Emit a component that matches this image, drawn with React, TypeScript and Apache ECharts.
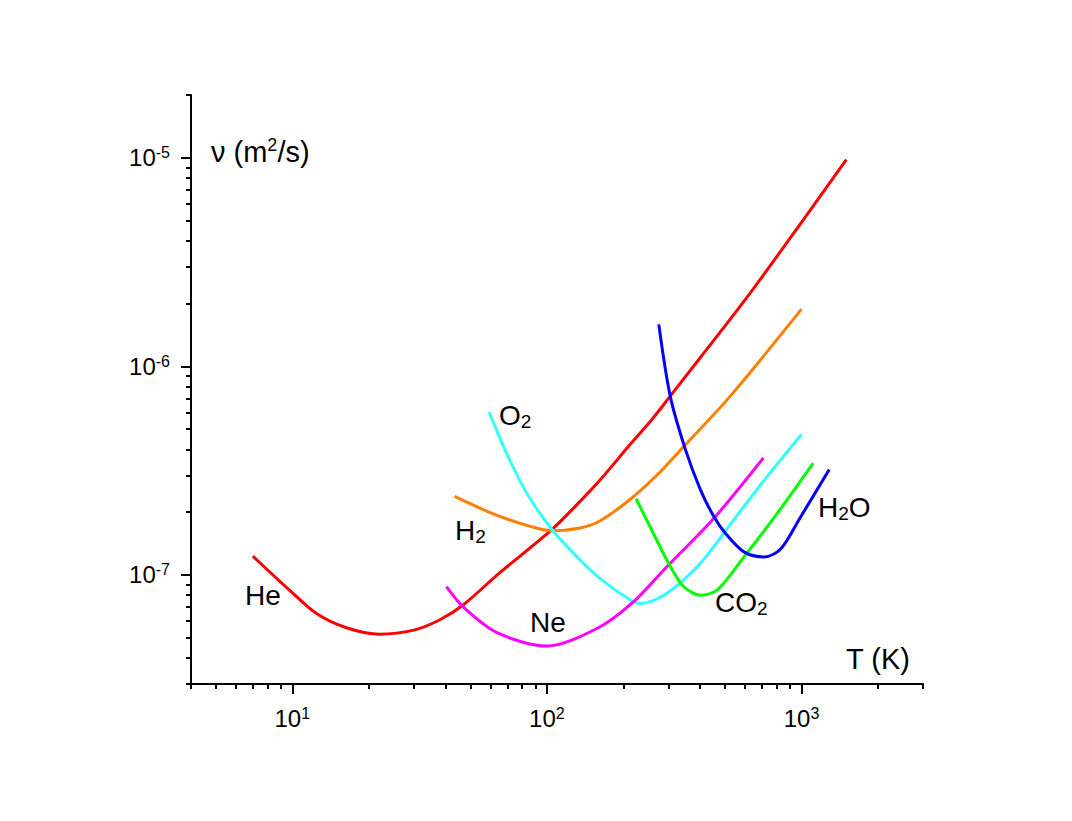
import React, { useEffect, useRef } from "react";
import * as echarts from "echarts";

// Temperature range (K) and kinematic viscosity range (m^2/s)
const xRange = [4, 3000];
const yRange = [3e-8, 2e-5];

// Axis tick positions (raw values)
const xMajor = [10, 100, 1000];
const xMinor = [4, 5, 6, 7, 8, 9, 20, 30, 40, 50, 60, 70, 80, 90, 200, 300, 400, 500, 600, 700, 800, 900, 2000, 3000];
const yMajor = [1e-7, 1e-6, 1e-5];
const yMinor = [3e-8, 4e-8, 5e-8, 6e-8, 7e-8, 8e-8, 9e-8, 2e-7, 3e-7, 4e-7, 5e-7, 6e-7, 7e-7, 8e-7, 9e-7, 2e-6, 3e-6, 4e-6, 5e-6, 6e-6, 7e-6, 8e-6, 9e-6, 2e-5];

// Curves: [T (K), nu (m^2/s)]
const He = [
  [7, 1.23e-7], [9.7, 8.5e-8], [12.4, 6.55e-8], [16.2, 5.6e-8], [22, 5.2e-8], [30, 5.44e-8],
  [38, 6.1e-8], [47, 7.2e-8], [65, 1.02e-7], [104, 1.64e-7], [130, 2.15e-7], [162, 2.86e-7],
  [212, 4.22e-7], [260, 5.61e-7], [305, 7.2e-7], [400, 1.1e-6], [603, 2.1e-6], [1000, 4.9e-6],
  [1500, 9.8e-6],
];
const H2 = [
  [43.4, 2.38e-7], [63, 1.94e-7], [86, 1.71e-7], [104, 1.63e-7], [135, 1.68e-7], [162, 1.82e-7],
  [212, 2.3e-7], [272, 3.03e-7], [344, 4.12e-7], [520, 7.1e-7], [1000, 1.88e-6],
];
const O2 = [
  [59.3, 6.03e-7], [69.3, 3.85e-7], [83.2, 2.47e-7], [106, 1.62e-7], [135, 1.18e-7], [162, 9.6e-8],
  [212, 7.6e-8], [233, 7.3e-8], [297, 8.2e-8], [401, 1.14e-7], [542, 1.84e-7], [734, 2.97e-7],
  [1000, 4.71e-7],
];
const Ne = [
  [40.3, 8.78e-8], [46.8, 7.04e-8], [63.4, 5.3e-8], [100, 4.56e-8], [160, 5.6e-8], [219, 7.44e-8],
  [297, 1.1e-7], [453, 1.87e-7], [708, 3.64e-7],
];
const CO2 = [
  [224, 2.32e-7], [262, 1.58e-7], [305, 1.1e-7], [345, 8.78e-8], [401, 8.0e-8], [467, 8.47e-8],
  [594, 1.22e-7], [804, 1.98e-7], [1111, 3.44e-7],
];
const H2O = [
  [275, 1.59e-6], [305, 7.2e-7], [350, 3.99e-7], [401, 2.56e-7], [453, 1.9e-7], [503, 1.58e-7],
  [594, 1.29e-7], [713, 1.22e-7], [828, 1.33e-7], [990, 1.89e-7], [1285, 3.2e-7],
];

const seriesDefs = [
  { name: "He", data: He, color: "#ff0000" },
  { name: "H2", data: H2, color: "#ff8000" },
  { name: "O2", data: O2, color: "#33ffff" },
  { name: "Ne", data: Ne, color: "#ff00ff" },
  { name: "CO2", data: CO2, color: "#00ff00" },
  { name: "H2O", data: H2O, color: "#0000ff" },
];

const FONT = "'Liberation Sans', Arial, Helvetica, sans-serif";
const L = (v: number) => Math.log10(v);

function label(x: number, y: number, text: string, size = 28) {
  return {
    type: "text",
    x,
    y,
    silent: true,
    style: {
      text,
      fill: "#000",
      fontSize: size,
      fontFamily: FONT,
      lineHeight: 32,
      align: "left",
      verticalAlign: "middle",
      textAlign: "left",
      textVerticalAlign: "middle",
      rich: {
        sub: { fontSize: 19, fontFamily: FONT, lineHeight: 6, verticalAlign: "bottom", fill: "#000" },
        sup: { fontSize: 18, fontFamily: FONT, lineHeight: 11, verticalAlign: "top", fill: "#000" },
      },
    },
  };
}

const tickRich = {
  b: { fontSize: 24, fontFamily: FONT, lineHeight: 26, color: "#000" },
  s: { fontSize: 16, fontFamily: FONT, lineHeight: 11, verticalAlign: "top", color: "#000" },
};
const powFmt = (v: number) => `{b|10}{s|${Math.round(v)}}`;

export default function App() {
  const ref = useRef<HTMLDivElement>(null);
  useEffect(() => {
    if (!ref.current) return;
    const chart = echarts.init(ref.current, null, { renderer: "svg" });
    const xMin = L(xRange[0]);
    const xMax = L(xRange[1]);
    const yMin = L(yRange[0]);
    const yMax = L(yRange[1]);
    const axisLineStyle = { color: "#000", width: 2 };
    chart.setOption({
      animation: false,
      backgroundColor: "#fff",
      grid: { left: 191, right: 149, top: 95, bottom: 137 },
      xAxis: [
        {
          type: "value",
          min: xMin,
          max: xMax,
          axisLine: { show: true, onZero: false, lineStyle: axisLineStyle },
          axisTick: { show: true, length: 10, lineStyle: { color: "#000", width: 2 }, customValues: xMajor.map(L) },
          axisLabel: { show: true, margin: 21, customValues: xMajor.map(L), formatter: powFmt, rich: tickRich },
          splitLine: { show: false },
        },
        {
          type: "value",
          position: "bottom",
          min: xMin,
          max: xMax,
          axisLine: { show: false, onZero: false },
          axisTick: { show: true, length: 5, lineStyle: { color: "#000", width: 2 }, customValues: xMinor.map(L) },
          axisLabel: { show: false },
          splitLine: { show: false },
        },
      ],
      yAxis: [
        {
          type: "value",
          min: yMin,
          max: yMax,
          axisLine: { show: true, onZero: false, lineStyle: axisLineStyle },
          axisTick: { show: true, length: 10, lineStyle: { color: "#000", width: 2 }, customValues: yMajor.map(L) },
          axisLabel: { show: true, margin: 21, customValues: yMajor.map(L), formatter: powFmt, rich: tickRich },
          splitLine: { show: false },
        },
        {
          type: "value",
          position: "left",
          min: yMin,
          max: yMax,
          axisLine: { show: false, onZero: false },
          axisTick: { show: true, length: 5, lineStyle: { color: "#000", width: 2 }, customValues: yMinor.map(L) },
          axisLabel: { show: false },
          splitLine: { show: false },
        },
      ],
      series: seriesDefs.map((s) => ({
        name: s.name,
        type: "line",
        xAxisIndex: 0,
        yAxisIndex: 0,
        showSymbol: false,
        smooth: 0.3,
        lineStyle: { color: s.color, width: 3 },
        itemStyle: { color: s.color },
        data: s.data.map(([t, v]) => [L(t), L(v)]),
      })),
      graphic: [
        label(211, 152, "ν (m{sup|2}/s)", 29),
        label(846, 659, "T (K)", 29),
        label(245, 595, "He"),
        label(455, 530, "H{sub|2}"),
        label(499, 415, "O{sub|2}"),
        label(530, 622, "Ne"),
        label(715, 602, "CO{sub|2}"),
        label(818, 507, "H{sub|2}O"),
      ],
    });
    return () => chart.dispose();
  }, []);
  return <div ref={ref} style={{ position: "absolute", left: 0, top: 0, width: 1072, height: 821 }} />;
}
